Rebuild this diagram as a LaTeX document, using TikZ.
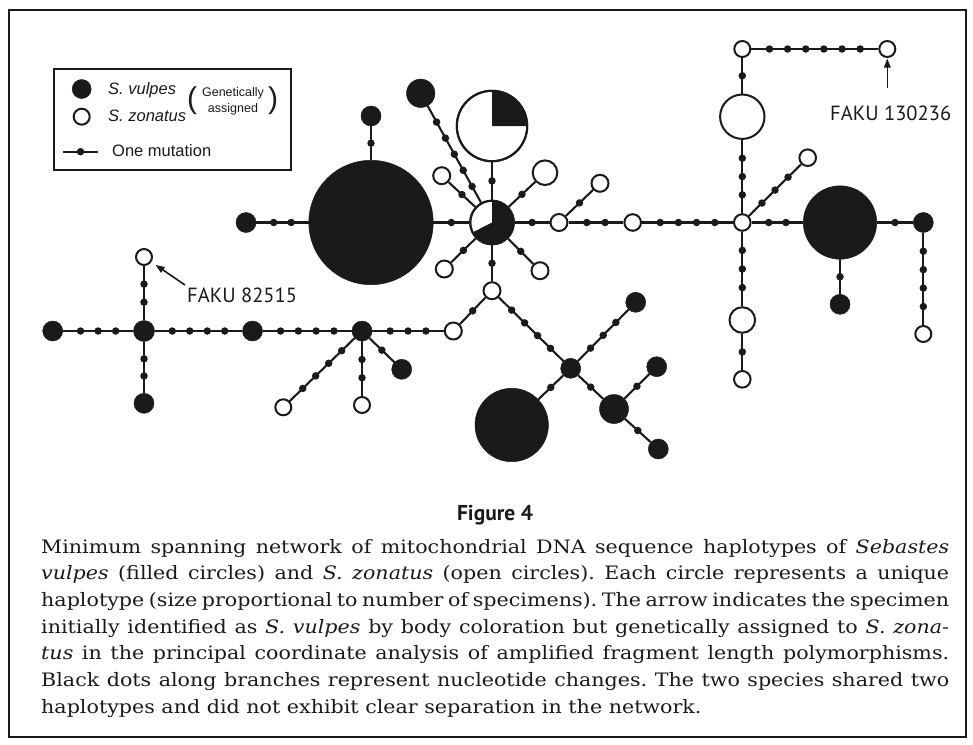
\documentclass[tikz,border=0pt]{standalone}
\usepackage{fontspec}
\setmainfont{DejaVu Serif}[FakeStretch=1.115]
\newfontfamily\lsans{Liberation Sans}
\newfontfamily\ptsans{PT Sans}
\usetikzlibrary{arrows.meta}
\definecolor{ink}{RGB}{26,26,26}
\newcommand\conn[3]{\draw[edge] (#1) -- (#2) foreach \k [evaluate=\k as \pp using \k/(#3+1)] in {1,...,#3} {node[dot,pos=\pp] (#1-#2-\k) {}};}
\frenchspacing
\begin{document}
\begin{tikzpicture}[x=1pt,y=1pt,
 edge/.style={draw=ink, line width=2.1pt},
 dot/.style={circle, fill=ink, inner sep=0pt, minimum size=7.5pt},
 fnode/.style={circle, fill=ink, draw=ink, line width=0.5pt, inner sep=0pt, minimum size=#1},
 onode/.style={circle, fill=white, draw=ink, line width=2pt, inner sep=0pt, minimum size=#1},
 lbl/.style={inner sep=0pt, text=ink},
 pointer/.style={draw=ink, line width=1.6pt, -{Triangle[length=9pt,width=6.5pt]}},
]
\useasboundingbox (0,0) rectangle (973,-744);
\node[draw=ink, line width=2pt, minimum width=957pt, minimum height=727pt, anchor=north west, inner sep=0pt] (frame) at (8,-9) {};

% legend
\node[draw=ink, line width=1.6pt, minimum width=237pt, minimum height=101pt, anchor=north west, inner sep=0pt] (legend) at (53,-68) {};
\node[fnode=19pt] (Lf) at (81.7,-89) {};
\node[onode=16pt] (Lo) at (81.7,-116.7) {};
\coordinate (Ll) at (63,-151.7);
\coordinate (Lr) at (98,-151.7);
\draw[edge] (Ll) -- (Lr) node[dot,pos=0.5] (Ld) {};
\node[lbl, anchor=base west, font=\lsans\itshape\fontsize{16.5}{18}\selectfont] (Lt1) at (108,-94) {S. vulpes};
\node[lbl, anchor=base west, font=\lsans\itshape\fontsize{16.5}{18}\selectfont] (Lt2) at (108,-121) {S. zonatus};
\node[lbl, anchor=base, font=\lsans\fontsize{12.5}{14}\selectfont] (Lg1) at (233,-96) {Genetically};
\node[lbl, anchor=base, font=\lsans\fontsize{12.5}{14}\selectfont] (Lg2) at (233,-112.7) {assigned};
\node[lbl, font=\lsans\fontsize{30}{30}\selectfont] (Lp1) at (192,-101) {(};
\node[lbl, font=\lsans\fontsize{30}{30}\selectfont] (Lp2) at (273,-101) {)};
\node[lbl, anchor=base west, font=\lsans\fontsize{16.5}{18}\selectfont] (Lt3) at (112,-156.7) {One mutation};

% left cluster
\node[fnode=20pt] (A1) at (52.7,-331) {};
\node[fnode=21pt] (H1) at (144,-331) {};
\node[onode=16pt] (U1) at (144,-257) {};
\node[fnode=20pt] (D1) at (144,-403.3) {};
\node[fnode=20pt] (F1) at (252.5,-331) {};
\node[fnode=20pt] (H2) at (362,-331) {};
\node[onode=16pt] (H2a) at (283.3,-407.3) {};
\node[onode=16pt] (H2b) at (362,-405) {};
\node[fnode=20pt] (H2c) at (401.7,-369.3) {};
\node[onode=17pt] (O1) at (453.3,-331) {};
\node[onode=17pt] (O2) at (492,-290.7) {};
\node[fnode=20pt] (H3) at (570.7,-368.3) {};
\node[fnode=20pt] (H3a) at (635.7,-302.3) {};
\node[fnode=73.4pt] (B3) at (511.7,-425) {};
\node[fnode=29pt] (H4) at (614,-409) {};
\node[fnode=20pt] (H4a) at (656.7,-366.7) {};
\node[fnode=20pt] (H4b) at (658.3,-449) {};

% centre
\node[fnode=124.4pt] (B1) at (371,-222.5) {};
\node[fnode=20pt] (B1l) at (246,-222.5) {};
\node[fnode=20pt] (B1u) at (371,-116) {};
\node[onode=43.6pt] (P1) at (492,-222.5) {};
\node[onode=70.4pt] (P2) at (492,-126) {};
\node[fnode=28.4pt] (Q1) at (420.7,-93.3) {};
\node[onode=17pt] (S1) at (441.7,-175.7) {};
\node[onode=24.6pt] (S2) at (545,-172.7) {};
\node[onode=17pt] (S3) at (444.3,-269) {};
\node[onode=17pt] (S4) at (540,-270.7) {};
\node[onode=17pt] (O3) at (559,-222.5) {};
\node[onode=17pt] (O3a) at (600,-183.3) {};
\node[onode=16.6pt] (O4) at (632.7,-222.5) {};
\node[onode=16.6pt] (O5) at (742.3,-222.5) {};

% right
\node[fnode=73.4pt] (B2) at (840,-222.5) {};
\node[fnode=20pt] (F2) at (923.3,-222.5) {};
\node[onode=16pt] (F2d) at (923.3,-334) {};
\node[fnode=20pt] (B2d) at (840,-304.3) {};
\node[onode=25.6pt] (O5d) at (742.3,-320) {};
\node[onode=16.6pt] (O5dd) at (742.3,-379.3) {};
\node[onode=16.6pt] (O5r) at (807.7,-157.7) {};
\node[onode=44.4pt] (O6) at (742.3,-116.7) {};
\node[onode=16pt] (O7) at (742.3,-49) {};
\node[onode=16pt] (O8) at (887.3,-49) {};

% pies
\fill[ink] (P1.center) -- ++(90:21.8) arc[start angle=90, end angle=-153, radius=21.8] -- cycle;
\draw[ink, line width=2pt] (P1.center) circle[radius=21.8];
\fill[ink] (P2.center) -- ++(0:35.2) arc[start angle=0, end angle=90, radius=35.2] -- cycle;
\draw[ink, line width=2pt] (P2.center) circle[radius=35.2];

% connectors
\conn{A1}{H1}{3}
\conn{H1}{U1}{2}
\conn{H1}{D1}{2}
\conn{H1}{F1}{4}
\conn{F1}{H2}{4}
\conn{H2}{H2a}{4}
\conn{H2}{H2b}{2}
\conn{H2}{H2c}{1}
\conn{H2}{O1}{3}
\conn{O1}{O2}{1}
\conn{O2}{P1}{1}
\conn{O2}{H3}{4}
\conn{H3}{H3a}{3}
\conn{H3}{B3}{1}
\conn{H3}{H4}{1}
\conn{H4}{H4a}{1}
\conn{H4}{H4b}{1}
\conn{B1l}{B1}{2}
\conn{B1u}{B1}{1}
\conn{B1}{P1}{1}
\conn{P1}{P2}{1}
\conn{P1}{Q1}{5}
\conn{P1}{S1}{1}
\conn{P1}{S2}{1}
\conn{P1}{S3}{1}
\conn{P1}{S4}{1}
\conn{P1}{O3}{1}
\conn{O3}{O3a}{1}
\conn{O3}{O4}{2}
\conn{O4}{O5}{4}
\conn{O5}{B2}{2}
\conn{B2}{F2}{1}
\conn{F2}{F2d}{4}
\conn{B2}{B2d}{1}
\conn{O5}{O5d}{3}
\conn{O5d}{O5dd}{1}
\conn{O5}{O5r}{3}
\conn{O5}{O6}{3}
\conn{O6}{O7}{1}
\conn{O7}{O8}{6}

% specimen labels
\node[lbl, anchor=west, font=\ptsans\fontsize{20.5}{22}\selectfont] (fk1) at (187,-295) {FAKU 82515};
\node[lbl, anchor=west, font=\ptsans\fontsize{20.5}{22}\selectfont] (fk2) at (830,-113) {FAKU 130236};
\coordinate (a1s) at (185,-285);
\draw[pointer, shorten >=5pt] (a1s) -- (U1);
\coordinate (a2s) at (887.3,-88);
\draw[pointer, shorten >=0.5pt] (a2s) -- (O8);

% caption
\node[lbl, anchor=base, font=\ptsans\bfseries\fontsize{21.5}{24}\selectfont] (fig) at (495,-520) {Figure 4};
\begin{scope}[every node/.style={lbl, anchor=base west, font=\fontsize{18.5}{26}\selectfont}]
\node (c1) at (41,-553) {\makebox[908pt][s]{Minimum spanning network of mitochondrial DNA sequence haplotypes of \textit{Sebastes}}};
\node (c2) at (41,-579.7) {\makebox[908pt][s]{\textit{vulpes} (filled circles) and \textit{S. zonatus} (open circles). Each circle represents a unique}};
\node (c3) at (41,-606.3) {\makebox[908pt][s]{haplotype (size proportional to number of specimens). The arrow indicates the specimen}};
\node (c4) at (41,-633) {\makebox[908pt][s]{initially identified as \textit{S. vulpes} by body coloration but genetically assigned to \textit{S. zona-}}};
\node (c5) at (41,-659.7) {\makebox[908pt][s]{\textit{tus} in the principal coordinate analysis of amplified fragment length polymorphisms.}};
\node (c6) at (41,-686.3) {\makebox[908pt][s]{Black dots along branches represent nucleotide changes. The two species shared two}};
\node (c7) at (41,-713) {haplotypes and did not exhibit clear separation in the network.};
\end{scope}
\end{tikzpicture}
\end{document}
